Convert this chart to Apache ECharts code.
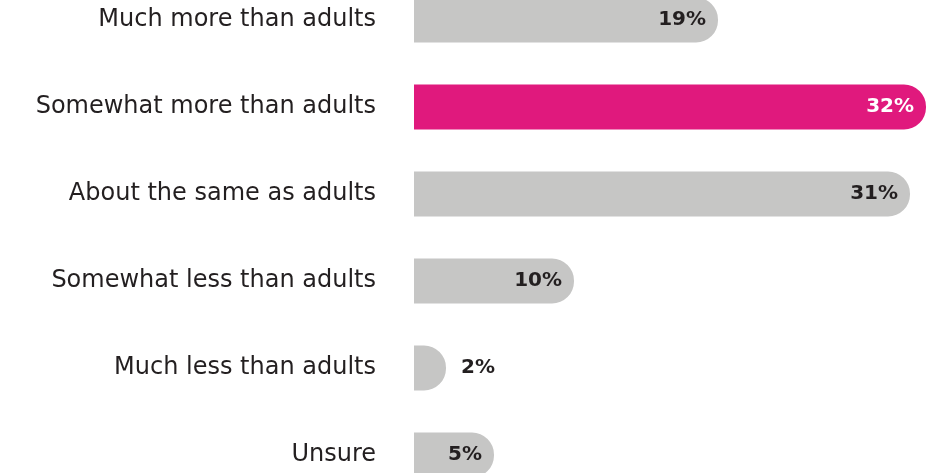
<!DOCTYPE html>
<html><head><meta charset="utf-8">
<script src="https://cdn.jsdelivr.net/npm/echarts@6/dist/echarts.min.js"></script>
<style>html,body{margin:0;padding:0;background:#fff}#c{width:937px;height:473px}</style>
</head><body><div id="c"></div>
<script>
const categories = ["Much more than adults","Somewhat more than adults","About the same as adults","Somewhat less than adults","Much less than adults","Unsure"];
const values = [19, 32, 31, 10, 2, 5];
const highlight = "Somewhat more than adults";

const chart = echarts.init(document.getElementById('c'));
const data = values.map((v, i) => {
  const hi = categories[i] === highlight;
  const small = v < 4;
  return {
    value: v,
    itemStyle: { color: hi ? '#E0197D' : '#C6C6C5' },
    label: {
      position: small ? 'right' : 'insideRight',
      distance: small ? 15 : 12,
      color: hi ? '#ffffff' : '#231F20'
    }
  };
});
chart.setOption({
  animation: false,
  grid: { left: 414, right: 11, top: -23.5, height: 522, containLabel: false, outerBoundsMode: 'none' },
  xAxis: { type: 'value', min: 0, max: 32, show: false },
  yAxis: {
    type: 'category', data: categories, inverse: true,
    axisLine: { show: false }, axisTick: { show: false },
    axisLabel: { margin: 38, fontSize: 24, color: '#231F20', fontFamily: 'DejaVu Sans' }
  },
  series: [{
    type: 'bar', data: data, barWidth: 45,
    itemStyle: { borderRadius: [0, 22, 22, 0] },
    label: { show: true, formatter: '{c}%', fontSize: 20, fontWeight: 'bold', fontFamily: 'DejaVu Sans' }
  }]
});
</script></body></html>
